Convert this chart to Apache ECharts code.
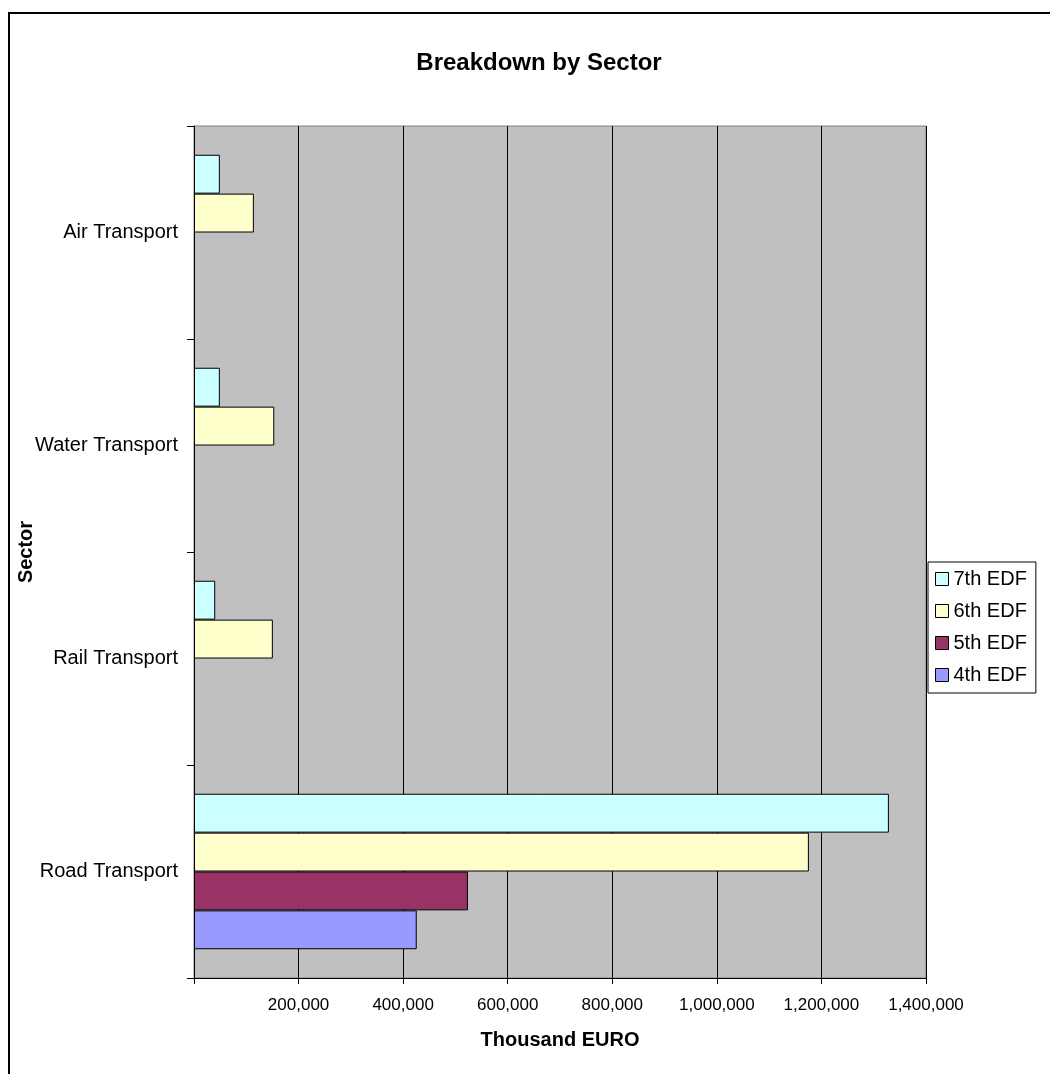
<!DOCTYPE html>
<html>
<head>
<meta charset="utf-8">
<script src="https://cdn.jsdelivr.net/npm/echarts@6/dist/echarts.min.js"></script>
<style>
html,body{margin:0;padding:0;background:#fff;}
#main{width:1050px;height:1074px;}
</style>
</head>
<body>
<div id="main"></div>
<script>
// Categories listed bottom-to-top (ECharts category y axis starts at the bottom)
var sectors = ['Road Transport', 'Rail Transport', 'Water Transport', 'Air Transport'];
var seriesNames = ['7th EDF', '6th EDF', '5th EDF', '4th EDF'];
var edf7 = [1329000, 40600, 49400, 49400];
var edf6 = [1176000, 150800, 153500, 114500];
var edf5 = [524000, null, null, null];
var edf4 = [426000, null, null, null];
var xTicks = [0, 200000, 400000, 600000, 800000, 1000000, 1200000, 1400000];

var colors = ['#CCFFFF', '#FFFFCC', '#993366', '#9999FF'];
var values = [edf7, edf6, edf5, edf4];

var chart = echarts.init(document.getElementById('main'), null, {renderer: 'canvas'});

function fmt(v) {
  if (v === 0) return '';
  return String(v).replace(/\B(?=(\d{3})+(?!\d))/g, ',');
}

var series = seriesNames.map(function (n, i) {
  return {
    name: n,
    type: 'bar',
    data: values[i],
    barGap: '0%',
    barCategoryGap: '27%',
    itemStyle: {color: colors[i], borderColor: '#000', borderWidth: 1},
    emphasis: {disabled: true},
    animation: false
  };
});

chart.setOption({
  animation: false,
  backgroundColor: '#fff',
  title: {
    text: 'Breakdown by Sector',
    left: 534,
    top: 46,
    textAlign: 'center',
    textStyle: {fontFamily: 'Liberation Sans, Arial', fontWeight: 'bold', fontSize: 24, color: '#000'}
  },
  graphic: [{
    type: 'rect',
    shape: {x: 9, y: 13, width: 1200, height: 1200},
    style: {fill: 'none', stroke: '#000', lineWidth: 2},
    z: 100,
    silent: true
  }],
  legend: {
    orient: 'vertical',
    left: 928,
    top: 562,
    data: seriesNames,
    backgroundColor: '#fff',
    borderColor: '#000',
    borderWidth: 1,
    padding: [7, 9, 8, 7],
    itemGap: 12,
    itemWidth: 13,
    itemHeight: 13,
    icon: 'rect',
    itemStyle: {borderColor: '#000', borderWidth: 1},
    textStyle: {fontFamily: 'Liberation Sans, Arial', fontSize: 20, color: '#000'}
  },
  grid: {
    left: 194,
    top: 126,
    right: 124,
    bottom: 96,
    outerBoundsMode: 'none',
    containLabel: false,
    show: true,
    backgroundColor: '#C0C0C0',
    borderColor: '#808080',
    borderWidth: 1
  },
  xAxis: {
    type: 'value',
    min: 0,
    max: 1400000,
    interval: 200000,
    name: 'Thousand EURO',
    nameLocation: 'middle',
    nameGap: 52,
    nameTextStyle: {fontFamily: 'Liberation Sans, Arial', fontWeight: 'bold', fontSize: 20, color: '#000'},
    axisLine: {show: true, lineStyle: {color: '#000', width: 1}},
    axisTick: {show: true, length: 6, lineStyle: {color: '#000'}},
    axisLabel: {
      formatter: fmt,
      margin: 19,
      fontFamily: 'Liberation Sans, Arial',
      fontSize: 17,
      color: '#000'
    },
    splitLine: {show: true, lineStyle: {color: '#000', width: 1}}
  },
  yAxis: {
    type: 'category',
    data: sectors,
    name: 'Sector',
    nameLocation: 'middle',
    nameRotate: 90,
    nameGap: 158,
    nameMoveOverlap: false,
    nameTextStyle: {fontFamily: 'Liberation Sans, Arial', fontWeight: 'bold', fontSize: 20, color: '#000'},
    axisLine: {show: true, lineStyle: {color: '#000', width: 1}},
    axisTick: {show: true, length: 7, lineStyle: {color: '#000'}},
    axisLabel: {margin: 16, fontFamily: 'Liberation Sans, Arial', fontSize: 20, color: '#000'},
    splitLine: {show: false}
  },
  series: series
});
</script>
</body>
</html>
